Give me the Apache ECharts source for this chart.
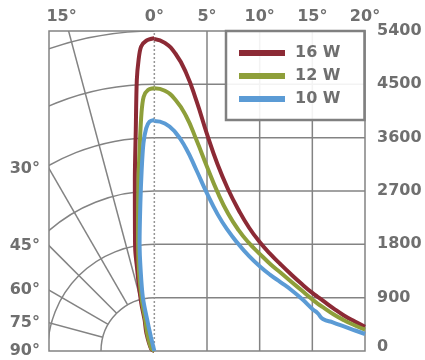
<!DOCTYPE html>
<html>
<head>
<meta charset="utf-8">
<script src="https://cdn.jsdelivr.net/npm/echarts@6/dist/echarts.min.js"></script>
<style>
  html, body { margin: 0; padding: 0; background: #fff; }
  #chart { width: 425px; height: 360px; }
</style>
</head>
<body>
<div id="chart"></div>
<script>
// right half: intensity (cd) against angle (deg)
const angles = [0, 1, 2, 3, 4, 5, 6, 7, 8, 9, 10, 11, 12, 13, 14, 15, 15.5, 16, 17, 18, 19, 20]
const red16 = [5265, 5200, 5020, 4700, 4220, 3660, 3150, 2730, 2380, 2080, 1840, 1640, 1460, 1290, 1130, 980, 915, 850, 720, 600, 500, 410]
const green12 = [4433, 4390, 4240, 3970, 3560, 3110, 2680, 2320, 2040, 1820, 1640, 1470, 1320, 1170, 1020, 870, 800, 740, 620, 520, 435, 360]
const blue10 = [3880, 3840, 3690, 3420, 3050, 2660, 2310, 2030, 1800, 1600, 1430, 1285, 1160, 1030, 880, 710, 640, 540, 480, 415, 350, 287]

// left half: same curves drawn on the polar diagram, [angle, intensity]
const polarRed16 = [[0, 5277], [1.5, 5238], [2.5, 5140], [3.1, 4918], [3.7, 4583], [4.8, 3742], [6.5, 2904], [9.1, 2068], [10.7, 1734], [11.9, 1397], [13.1, 1173], [15.3, 834], [17.4, 548], [24, 330], [60, 60], [90, 0]]
const polarGreen12 = [[0, 4433], [1.4, 4406], [2.4, 4295], [3.1, 4017], [4.1, 3456], [5.3, 2898], [7.7, 2061], [10.8, 1391], [14.2, 830], [16.2, 545], [22, 320], [50, 70], [90, 0]]
const polarBlue10 = [[0, 3898], [1.2, 3870], [2.1, 3760], [3, 3510], [4, 3062], [5.4, 2504], [7.8, 1834], [9.6, 1387], [12.1, 920], [13, 480], [13.5, 240], [20, 0]]

const names = ['16 W', '12 W', '10 W']
const xTicks = [0, 5, 10, 15, 20]
const yTicks = [0, 900, 1800, 2700, 3600, 4500, 5400]
const rings = [900, 1800, 2700, 3600, 4500, 5400]
const spokes = [15, 30, 45, 60, 75]
const spokeLabels = [15, 30, 45, 60, 75, 90]

const xMin = -10, xMax = 20, yMax = 5400
const GRID = {left: 49, top: 31, width: 316, height: 320}
const colors = ['#8c2a35', '#8e9f3a', '#5b9bd5']
const gridColor = '#838383'
const textColor = '#6f6f6f'
const FONT = 'DejaVu Sans'

const originX = GRID.left + GRID.width * (0 - xMin) / (xMax - xMin)
const originY = GRID.top + GRID.height

const chart = echarts.init(document.getElementById('chart'), null, {renderer: 'canvas'})

// polar grid (left) + square grid (right), clipped to the plot
const renderGrid = (params, api) => {
  const o = api.coord([0, 0])
  const k = (o[1] - api.coord([0, yMax])[1]) / yMax
  const ls = {stroke: gridColor, lineWidth: 1.5, fill: 'none'}
  const children = []
  rings.forEach(r => {
    children.push({type: 'arc', shape: {cx: o[0], cy: o[1], r: r * k, startAngle: Math.PI, endAngle: Math.PI * 1.5, clockwise: true}, style: ls})
  })
  spokes.forEach(a => {
    const t = a * Math.PI / 180
    const r0 = rings[0] * k, r1 = yMax * k * 2
    children.push({type: 'line', shape: {x1: o[0] - r0 * Math.sin(t), y1: o[1] - r0 * Math.cos(t), x2: o[0] - r1 * Math.sin(t), y2: o[1] - r1 * Math.cos(t)}, style: ls})
  })
  yTicks.forEach(v => {
    if (v <= 0 || v >= yMax) return
    const p0 = api.coord([0, v]), p1 = api.coord([xMax, v])
    children.push({type: 'line', shape: {x1: p0[0], y1: p0[1], x2: p1[0], y2: p1[1]}, style: ls})
  })
  xTicks.forEach(v => {
    if (v >= xMax) return
    const p0 = api.coord([v, 0]), p1 = api.coord([v, yMax])
    const st = v === 0 ? {stroke: '#959595', lineWidth: 1.5, lineDash: [2, 2]} : ls
    children.push({type: 'line', shape: {x1: p0[0], y1: p0[1], x2: p1[0], y2: p1[1]}, style: st})
  })
  return {type: 'group', children}
}

// angle labels where the spokes leave the plot
const renderSpokeLabels = (params, api) => {
  const o = api.coord([0, 0])
  const left = api.coord([xMin, 0])[0]
  const top = api.coord([0, yMax])[1]
  const children = []
  spokeLabels.forEach(a => {
    const t = a * Math.PI / 180
    const y = a === 90 ? o[1] : o[1] - (o[0] - left) / Math.tan(t)
    const font = 'bold 16px "' + FONT + '"'
    if (y < top) {
      const x = o[0] - (o[1] - top) * Math.tan(t)
      children.push({type: 'text', style: {text: a + '°', x: x - 7, y: top - 6, textAlign: 'center', textVerticalAlign: 'bottom', fill: textColor, font}})
    } else {
      children.push({type: 'text', style: {text: a + '°', x: left - 9, y: y, textAlign: 'right', textVerticalAlign: 'middle', fill: textColor, font}})
    }
  })
  return {type: 'group', children}
}

const cart = [red16, green12, blue10]
const polar = [polarRed16, polarGreen12, polarBlue10]
const curveSeries = []
names.forEach((n, i) => {
  curveSeries.push({
    name: n, type: 'line', color: colors[i], z: 3,
    data: angles.map((a, j) => [a, cart[i][j]]),
    smooth: 0.5, showSymbol: false, symbol: 'none',
    lineStyle: {width: 4, color: colors[i]}
  })
  curveSeries.push({
    name: n, type: 'line', coordinateSystem: 'polar', color: colors[i], z: 3,
    data: polar[i].map(([a, v]) => [v, a]),
    smooth: 0.3, showSymbol: false, symbol: 'none',
    lineStyle: {width: 4, color: colors[i]}
  })
})

const option = {
  animation: false,
  backgroundColor: '#fff',
  textStyle: {fontFamily: FONT},
  grid: {
    left: GRID.left, top: GRID.top, width: GRID.width, height: GRID.height,
    show: true, borderColor: gridColor, borderWidth: 1.5, backgroundColor: 'transparent',
    outerBoundsMode: 'none'
  },
  polar: {center: [originX, originY], radius: GRID.height},
  angleAxis: {
    type: 'value', min: 0, max: 360, startAngle: 90, clockwise: false, show: false,
    axisLine: {show: false}, splitLine: {show: false}, axisLabel: {show: false}, axisTick: {show: false}
  },
  radiusAxis: {
    type: 'value', min: 0, max: yMax, show: false,
    axisLine: {show: false}, splitLine: {show: false}, axisLabel: {show: false}, axisTick: {show: false}
  },
  xAxis: {
    type: 'value', position: 'top', min: xMin, max: xMax, interval: 5,
    axisLine: {show: false}, axisTick: {show: false}, splitLine: {show: false},
    axisLabel: {
      margin: 6, fontSize: 16, fontWeight: 'bold', color: textColor, fontFamily: FONT,
      formatter: v => v >= 0 ? v + '°' : ''
    }
  },
  yAxis: {
    type: 'value', position: 'right', min: 0, max: yMax, interval: 900,
    axisLine: {show: false}, axisTick: {show: false}, splitLine: {show: false},
    axisLabel: {
      margin: 12, fontSize: 16, fontWeight: 'bold', color: textColor, fontFamily: FONT,
      formatter: v => v === 0 ? '{z|0}' : String(v),
      rich: {z: {padding: [0, 0, 8, 0], fontSize: 16, fontWeight: 'bold', color: textColor, fontFamily: FONT}}
    }
  },
  legend: {
    data: names, orient: 'vertical', left: 226, top: 31,
    icon: 'rect', itemWidth: 46, itemHeight: 6, itemGap: 5,
    padding: [13, 24, 12, 13],
    backgroundColor: 'rgba(255,255,255,0.9)', borderColor: '#808080', borderWidth: 2.5,
    textStyle: {
      fontSize: 16, fontWeight: 'bold', color: textColor, fontFamily: FONT,
      lineHeight: 18, width: 45, padding: [0, 0, 0, 5]
    },
    selectedMode: false
  },
  series: [
    {type: 'custom', name: 'grid', z: 1, clip: true, silent: true, data: [[0, 0]], renderItem: renderGrid},
    {type: 'custom', name: 'labels', z: 1, clip: false, silent: true, data: [[0, 0]], renderItem: renderSpokeLabels},
    ...curveSeries
  ]
}

chart.setOption(option)
</script>
</body>
</html>
